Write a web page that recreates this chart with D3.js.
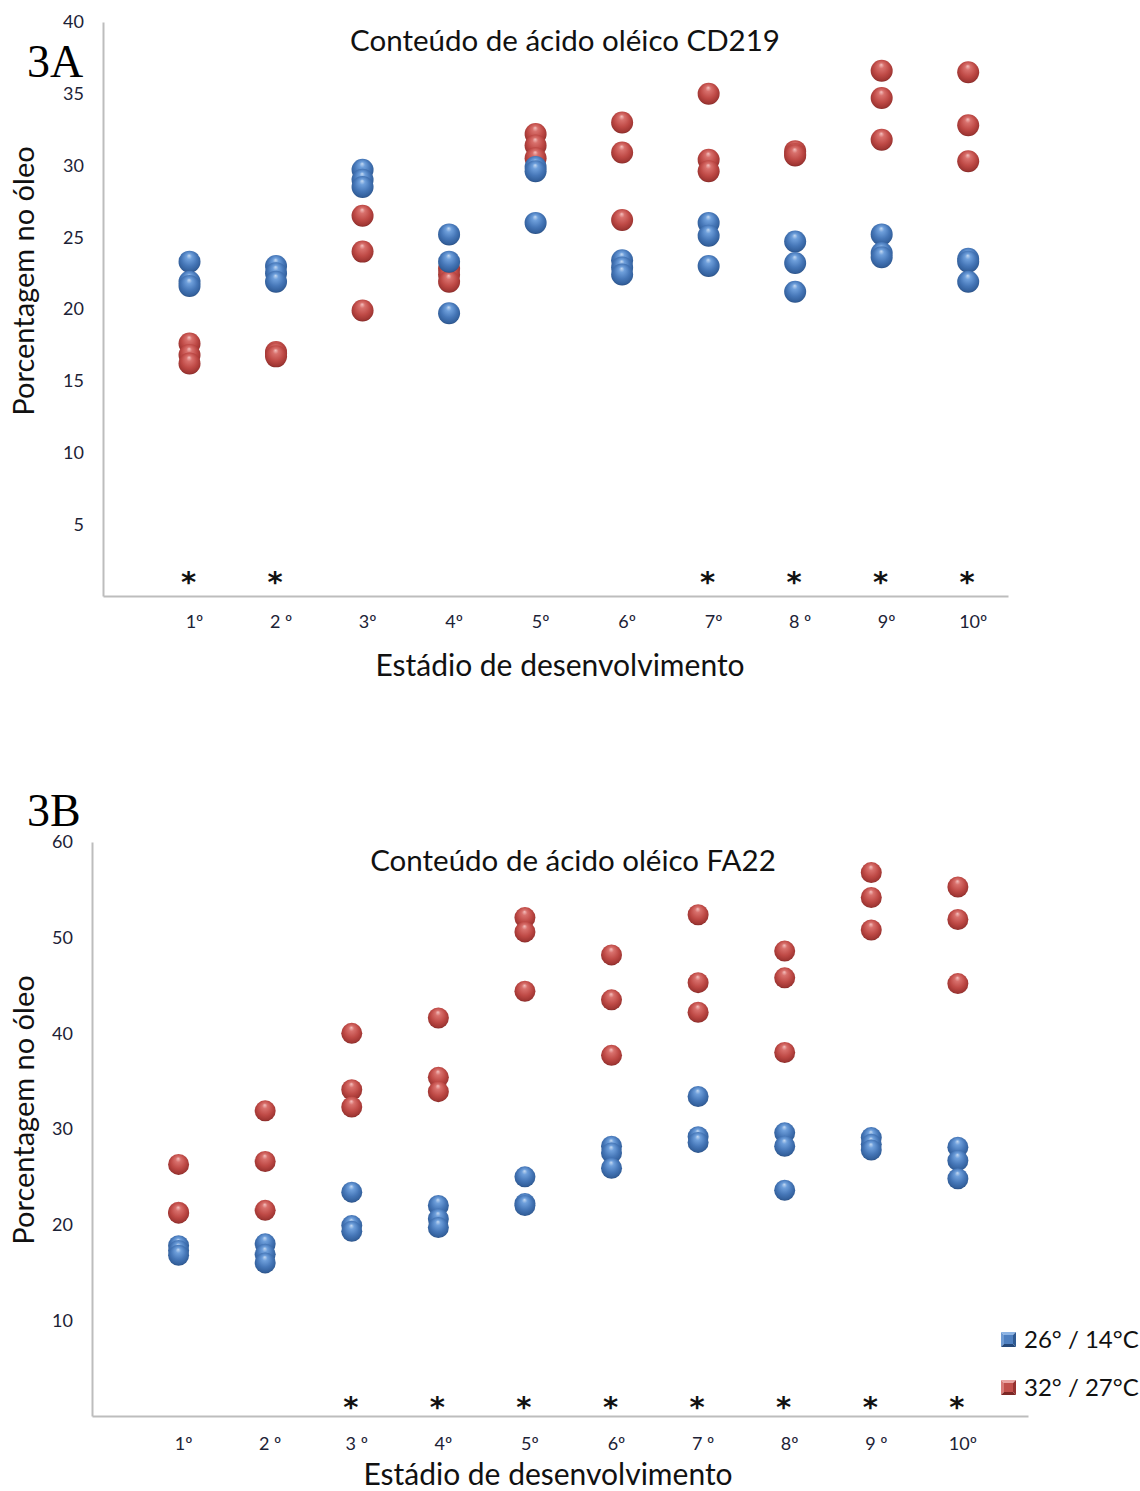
<!DOCTYPE html>
<html>
<head>
<meta charset="utf-8">
<script src="https://cdn.jsdelivr.net/npm/d3@7"></script>
<style>
  html, body { margin: 0; padding: 0; background: #fff; }
  svg { display: block; }
</style>
</head>
<body>
<script>
// Development stages (x categories)
const stagesA = ["1º", "2 º", "3º", "4º", "5º", "6º", "7º", "8 º", "9º", "10º"];
const stagesB = ["1º", "2 º", "3 º", "4º", "5º", "6º", "7 º", "8º", "9 º", "10º"];

// Series names
const seriesNames = ["26° / 14°C", "32° / 27°C"];

// Oleic acid content (%), CD219 — three replicates per stage
const cd219Cool = [
  [23.3, 21.9, 21.6], [23.0, 22.5, 21.9], [29.7, 29.0, 28.5], [25.2, 23.3, 19.7], [29.9, 29.6, 26.0],
  [23.4, 22.9, 22.4], [26.0, 25.1, 23.0], [24.7, 23.2, 21.2], [25.2, 23.9, 23.6], [23.5, 23.3, 21.9]
];
const cd219Warm = [
  [17.6, 16.8, 16.2], [17.0, 16.9, 16.7], [26.5, 24.0, 19.9], [22.8, 22.4, 21.9], [32.2, 31.4, 30.5],
  [33.0, 30.9, 26.2], [35.0, 30.4, 29.6], [31.0, 30.8, 30.7], [36.6, 34.7, 31.8], [36.5, 32.8, 30.3]
];
const cd219Signif = [1, 1, 0, 0, 0, 0, 1, 1, 1, 1];

// Oleic acid content (%), FA22 — three replicates per stage
const fa22Cool = [
  [17.8, 17.3, 16.8], [18.0, 16.9, 16.0], [23.4, 19.9, 19.3], [22.0, 20.6, 19.7], [25.0, 22.2, 22.0],
  [28.2, 27.5, 25.9], [33.4, 29.2, 28.6], [29.6, 28.2, 23.6], [29.1, 28.4, 27.8], [28.1, 26.7, 24.8]
];
const fa22Warm = [
  [26.3, 21.3, 21.2], [31.9, 26.6, 21.5], [40.0, 34.1, 32.3], [41.6, 35.4, 33.9], [52.1, 50.6, 44.4],
  [48.2, 43.5, 37.7], [52.4, 45.3, 42.2], [48.6, 45.8, 38.0], [56.8, 54.2, 50.8], [55.3, 51.9, 45.2]
];
const fa22Signif = [0, 0, 1, 1, 1, 1, 1, 1, 1, 1];

const yTicksA = [5, 10, 15, 20, 25, 30, 35, 40];
const yTicksB = [10, 20, 30, 40, 50, 60];

const W = 1140, H = 1491;
const svg = d3.select("body").append("svg").attr("width", W).attr("height", H);

const sans = "Lato, 'Open Sans', sans-serif";
const serif = "'Liberation Serif', 'DejaVu Serif', serif";
const tickColor = "#1c2236";
const axisColor = "#bdbdbd";

// Sphere-like shading for the bubble markers
const defs = svg.append("defs");
function sphereGradient(id, stops) {
  const g = defs.append("radialGradient").attr("id", id)
    .attr("cx", "50%").attr("cy", "45%").attr("r", "58%")
    .attr("fx", "48%").attr("fy", "22%");
  stops.forEach(([o, c]) => g.append("stop").attr("offset", o).attr("stop-color", c));
}
sphereGradient("ballBlue", [["0%", "#c4d9f2"], ["22%", "#6e9fdb"], ["60%", "#4677b8"], ["88%", "#33609c"], ["100%", "#27497a"]]);
sphereGradient("ballRed", [["0%", "#f4c0be"], ["22%", "#d8706c"], ["60%", "#bf4a46"], ["88%", "#a03633"], ["100%", "#7a2624"]]);

function drawPanel(cfg) {
  const g = svg.append("g");
  const x = d3.scaleLinear().domain([0, cfg.xMax]).range([cfg.left, cfg.right]);
  const y = d3.scaleLinear().domain([0, cfg.yMax]).range([cfg.bottom, cfg.top]);

  // Y axis
  const ya = g.append("g").attr("transform", `translate(${cfg.left},0)`)
    .call(d3.axisLeft(y).tickValues(cfg.yTicks).tickSize(0).tickSizeOuter(0).tickPadding(cfg.yPad));
  ya.select(".domain").attr("stroke", axisColor).attr("stroke-width", 2);
  ya.selectAll(".tick text").attr("font-family", sans).attr("font-size", 18)
    .attr("fill", tickColor);

  // X axis line
  const xa = g.append("g").attr("transform", `translate(0,${cfg.bottom})`)
    .call(d3.axisBottom(x).tickValues([]).tickSizeOuter(0));
  xa.select(".domain").attr("stroke", axisColor).attr("stroke-width", 2);

  // Stage labels
  g.selectAll(".stage").data(cfg.stages).join("text")
    .attr("x", (d, i) => x(i + 1) + 5)
    .attr("y", cfg.labelY)
    .attr("dy", "0.35em")
    .attr("text-anchor", "middle")
    .attr("font-family", sans).attr("font-size", 18)
    .attr("fill", tickColor)
    .text(d => d);

  // Significance markers
  g.selectAll(".sig").data(cfg.signif.map((s, i) => ({ s, i })).filter(d => d.s)).join("text")
    .attr("x", d => x(d.i + 1) - 1)
    .attr("y", cfg.starY)
    .attr("text-anchor", "middle")
    .attr("font-family", "'DejaVu Sans', sans-serif").attr("font-weight", "bold").attr("font-size", 29)
    .attr("fill", "#111")
    .text("*");

  // Bubbles: warm series first, cool series on top; lower replicates drawn last
  const pts = [];
  cfg.warm.forEach((vals, i) => vals.slice().sort((a, b) => b - a).forEach(v => pts.push({ i, v, c: "ballRed" })));
  cfg.cool.forEach((vals, i) => vals.slice().sort((a, b) => b - a).forEach(v => pts.push({ i, v, c: "ballBlue" })));
  g.selectAll(".ball").data(pts).join("circle")
    .attr("cx", d => x(d.i + 1))
    .attr("cy", d => y(d.v))
    .attr("r", cfg.r)
    .attr("fill", d => `url(#${d.c})`);

  // Title
  g.append("text").attr("x", cfg.titleX).attr("y", cfg.titleY)
    .attr("text-anchor", "middle").attr("font-family", sans).attr("font-size", 29.5)
    .attr("fill", "#111").text(cfg.title);

  // Axis titles
  g.append("text").attr("x", cfg.xTitleX).attr("y", cfg.xTitleY)
    .attr("text-anchor", "middle").attr("font-family", sans).attr("font-size", 30)
    .attr("fill", "#111").text("Estádio de desenvolvimento");
  g.append("text")
    .attr("transform", `translate(${cfg.yTitleX},${cfg.yTitleY}) rotate(-90)`)
    .attr("text-anchor", "middle").attr("font-family", sans).attr("font-size", 29)
    .attr("fill", "#111").text("Porcentagem no óleo");

  // Panel tag
  g.append("text").attr("x", cfg.tagX).attr("y", cfg.tagY)
    .attr("font-family", serif).attr("font-size", 46).attr("fill", "#000").text(cfg.tag);

  return { x, y };
}

drawPanel({
  tag: "3A", tagX: 27, tagY: 77,
  title: "Conteúdo de ácido oléico CD219", titleX: 565, titleY: 51,
  stages: stagesA, cool: cd219Cool, warm: cd219Warm, signif: cd219Signif,
  yMax: 40, yTicks: yTicksA, yPad: 19,
  left: 103, right: 1008, top: 22, bottom: 596, xMax: 10.46,
  labelY: 622, starY: 592, r: 11,
  xTitleX: 560, xTitleY: 676, yTitleX: 34, yTitleY: 281
});

drawPanel({
  tag: "3B", tagX: 27, tagY: 826,
  title: "Conteúdo de ácido oléico FA22", titleX: 573, titleY: 871,
  stages: stagesB, cool: fa22Cool, warm: fa22Warm, signif: fa22Signif,
  yMax: 60, yTicks: yTicksB, yPad: 19,
  left: 92, right: 1028, top: 842, bottom: 1416, xMax: 10.81,
  labelY: 1444, starY: 1417, r: 10.5,
  xTitleX: 548, xTitleY: 1485, yTitleX: 34, yTitleY: 1110
});

// Legend with bevelled square markers
const legend = svg.append("g").attr("transform", "translate(1001,1332)");
const markerShades = [
  { top: "#8db4e4", left: "#6f9bd3", right: "#2f5a92", bottom: "#24487a", face: "#4f80c0" },
  { top: "#e9a3a1", left: "#d77b78", right: "#963230", bottom: "#7c2725", face: "#c04f4b" }
];
legend.selectAll("g").data(seriesNames).join("g")
  .attr("transform", (d, i) => `translate(0,${i * 48})`)
  .each(function (d, i) {
    const gg = d3.select(this);
    const s = markerShades[i], n = 15, b = 3;
    gg.append("polygon").attr("points", `0,0 ${n},0 ${n - b},${b} ${b},${b}`).attr("fill", s.top);
    gg.append("polygon").attr("points", `0,0 ${b},${b} ${b},${n - b} 0,${n}`).attr("fill", s.left);
    gg.append("polygon").attr("points", `${n},0 ${n},${n} ${n - b},${n - b} ${n - b},${b}`).attr("fill", s.right);
    gg.append("polygon").attr("points", `0,${n} ${b},${n - b} ${n - b},${n - b} ${n},${n}`).attr("fill", s.bottom);
    gg.append("rect").attr("x", b).attr("y", b).attr("width", n - 2 * b).attr("height", n - 2 * b).attr("fill", s.face);
    gg.append("text").attr("x", 23).attr("y", 16)
      .attr("font-family", sans).attr("font-size", 24).attr("fill", "#111").text(d);
  });
</script>
</body>
</html>
